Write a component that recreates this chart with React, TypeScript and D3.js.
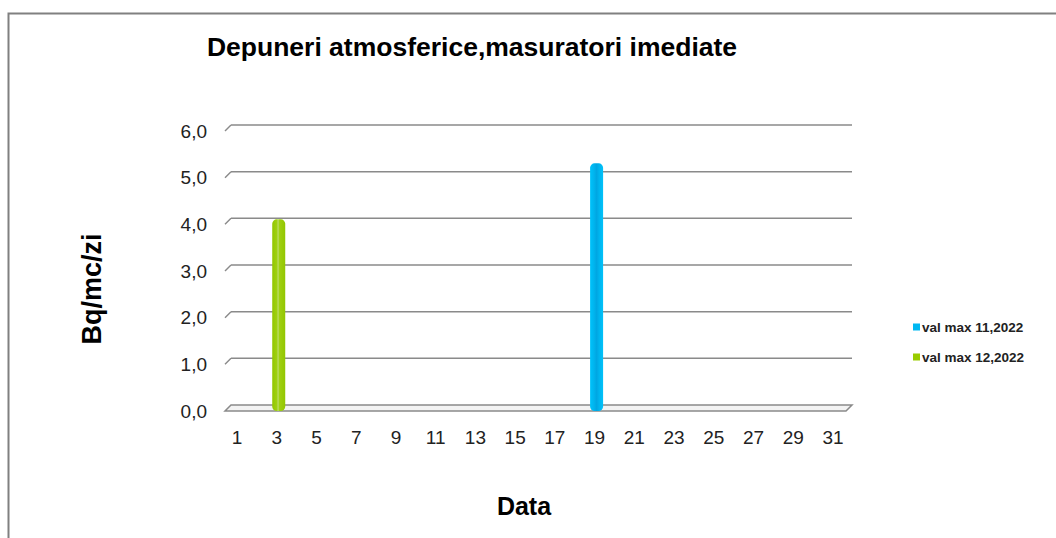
import React from "react";
import * as d3 from "d3";

const days = [1, 2, 3, 4, 5, 6, 7, 8, 9, 10, 11, 12, 13, 14, 15, 16, 17, 18, 19, 20, 21, 22, 23, 24, 25, 26, 27, 28, 29, 30, 31];
const valMax11 = [null, null, null, null, null, null, null, null, null, null, null, null, null, null, null, null, null, null, 5.2, null, null, null, null, null, null, null, null, null, null, null, null];
const valMax12 = [null, null, 4.0, null, null, null, null, null, null, null, null, null, null, null, null, null, null, null, null, null, null, null, null, null, null, null, null, null, null, null, null];
const seriesNames = ["val max 11,2022", "val max 12,2022"];
const yTicks = [0, 1, 2, 3, 4, 5, 6];
const title = "Depuneri atmosferice,masuratori imediate";
const yTitle = "Bq/mc/zi";
const xTitle = "Data";

const W = 1056;
const H = 538;
const FONT = "'Liberation Sans', Arial, sans-serif";

export default function App() {
  const depth = 6;
  const backX0 = 231;
  const backX1 = 852;
  const y = d3.scaleLinear().domain([0, 6]).range([405, 125]);
  const x = d3.scalePoint<number>().domain(days).range([237, 833]);
  const fmt = (v: number) => d3.format(".1f")(v).replace(".", ",");
  const floorY = y(0);
  const series = [
    { name: seriesNames[0], values: valMax11, grad: "gBlue", color: "#00b8f2" },
    { name: seriesNames[1], values: valMax12, grad: "gGreen", color: "#99cc00" },
  ];
  const barW = 13;

  return (
    <svg
      width={W}
      height={H}
      style={{ position: "absolute", left: 0, top: 0, background: "#fff" }}
      fontFamily={FONT}
    >
      <defs>
        <linearGradient id="gGreen" x1="0" x2="1" y1="0" y2="0">
          <stop offset="0" stopColor="#92c600" />
          <stop offset="0.35" stopColor="#9fd010" />
          <stop offset="0.45" stopColor="#bcdc6a" />
          <stop offset="0.55" stopColor="#9fd010" />
          <stop offset="1" stopColor="#92c600" />
        </linearGradient>
        <linearGradient id="gBlue" x1="0" x2="1" y1="0" y2="0">
          <stop offset="0" stopColor="#00c2fa" />
          <stop offset="0.3" stopColor="#00b4ee" />
          <stop offset="0.5" stopColor="#00a6e2" />
          <stop offset="0.7" stopColor="#00b4ee" />
          <stop offset="1" stopColor="#00c2fa" />
        </linearGradient>
      </defs>
      <rect x={8.5} y={13.5} width={1200} height={700} fill="none" stroke="#808080" strokeWidth={2} />

      <text x={472} y={56} textAnchor="middle" fontSize={26.5} fontWeight="bold" fill="#000">
        {title}
      </text>

      {/* gridlines on back wall with side diagonal */}
      {yTicks.filter((t) => t > 0).map((t) => (
        <g key={t}>
          <line x1={backX0} x2={backX1} y1={y(t)} y2={y(t)} stroke="#8a8a8a" strokeWidth={1.5} />
          <line x1={backX0 - depth} x2={backX0} y1={y(t) + depth} y2={y(t)} stroke="#8a8a8a" strokeWidth={1.5} />
        </g>
      ))}

      {/* floor */}
      <polygon
        points={`${backX0},${floorY} ${backX1},${floorY} ${backX1 - depth},${floorY + depth} ${backX0 - depth},${floorY + depth}`}
        fill="#f3f3f3"
        stroke="#8a8a8a"
        strokeWidth={1.5}
      />

      {/* y tick labels */}
      {yTicks.map((t) => (
        <text key={t} x={207} y={y(t) + depth} textAnchor="end" dominantBaseline="central" fontSize={19} fill="#222">
          {fmt(t)}
        </text>
      ))}

      {/* x tick labels */}
      {days.filter((d) => d % 2 === 1).map((d) => (
        <text key={d} x={x(d)} y={444} textAnchor="middle" fontSize={19} fill="#222">
          {d}
        </text>
      ))}

      {/* bars */}
      {series.map((s) =>
        s.values.map((v, i) =>
          v == null ? null : (
            <rect
              key={s.name + i}
              x={(x(days[i]) as number) + 2 - barW / 2}
              y={y(v) + 1}
              width={barW}
              height={floorY + depth - (y(v) + 1)}
              rx={4.5}
              fill={`url(#${s.grad})`}
            />
          )
        )
      )}

      {/* axis titles */}
      <text
        transform={`translate(101,289) rotate(-90)`}
        textAnchor="middle"
        fontSize={27}
        fontWeight="bold"
        fill="#000"
      >
        {yTitle}
      </text>
      <text x={524} y={515} textAnchor="middle" fontSize={25} fontWeight="bold" fill="#000">
        {xTitle}
      </text>

      {/* legend */}
      {series.map((s, i) => (
        <g key={s.name} transform={`translate(913,${327 + i * 30})`}>
          <rect x={0} y={-3.5} width={7} height={7} fill={s.color} />
          <text x={9} y={0} dominantBaseline="central" fontSize={13.5} fontWeight="bold" fill="#222">
            {s.name}
          </text>
        </g>
      ))}
    </svg>
  );
}
